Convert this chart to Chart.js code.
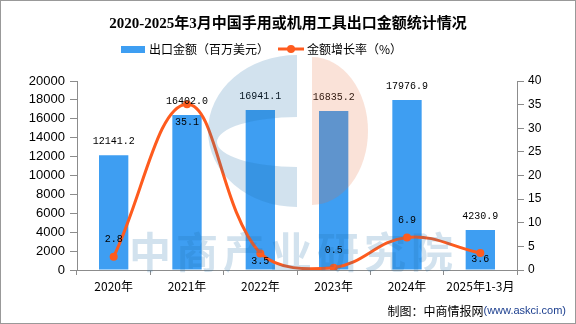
<!DOCTYPE html>
<html>
<head>
<meta charset="utf-8">
<script src="https://cdn.jsdelivr.net/npm/chart.js@4.4.1/dist/chart.umd.min.js"></script>
<style>
  html, body { margin: 0; padding: 0; background: #fff; }
  #wrap { width: 576px; height: 324px; }
</style>
</head>
<body>
<div id="wrap"><canvas id="myChart" width="576" height="324"></canvas></div>
<script>
// 出口数据
const years = ['2020年', '2021年', '2022年', '2023年', '2024年', '2025年1-3月'];
const exportValue = [12141.2, 16402.0, 16941.1, 16835.2, 17976.9, 4230.9];
const growthRate = [2.8, 35.1, 3.5, 0.5, 6.9, 3.6];

const barColor = '#3e9ef2';
const lineColor = '#fe5b1e';
const axisColor = '#8c8c8c';

// 增长率标签的上下偏移
const growthLabelShift = [-17, 18, 8, -17, -17, 6];

const labelFont = '10px "Liberation Mono", "DejaVu Sans Mono", monospace';

const valueLabels = {
    id: 'valueLabels',
    afterDatasetsDraw(chart) {
        const ctx = chart.ctx;
        ctx.save();
        ctx.font = labelFont;
        ctx.fillStyle = '#000';
        ctx.textAlign = 'center';
        ctx.textBaseline = 'middle';
        chart.getDatasetMeta(0).data.forEach((el, i) => {
            ctx.fillText(exportValue[i].toFixed(1), el.x, el.y - 14);
        });
        chart.getDatasetMeta(1).data.forEach((el, i) => {
            ctx.fillText(growthRate[i].toFixed(1), el.x, el.y + growthLabelShift[i]);
        });
        ctx.restore();
    }
};

const legendAndFooter = {
    id: 'legendAndFooter',
    afterDraw(chart) {
        const ctx = chart.ctx;
        const ds = chart.data.datasets;
        ctx.save();
        // 图例
        ctx.font = '12px "Noto Sans CJK SC"';
        ctx.textBaseline = 'middle';
        ctx.fillStyle = ds[0].backgroundColor;
        ctx.fillRect(121, 46, 24, 7);
        ctx.fillStyle = '#000';
        ctx.fillText(ds[0].label, 149, 49);
        ctx.strokeStyle = ds[1].borderColor;
        ctx.lineWidth = 3;
        ctx.beginPath();
        ctx.moveTo(278, 49);
        ctx.lineTo(304, 49);
        ctx.stroke();
        ctx.fillStyle = ds[1].borderColor;
        ctx.beginPath();
        ctx.arc(291, 49, 4, 0, Math.PI * 2);
        ctx.fill();
        ctx.fillStyle = '#000';
        ctx.fillText(ds[1].label, 307, 49);

        // 来源
        ctx.textAlign = 'right';
        ctx.font = '11px "Liberation Sans", Arial';
        ctx.fillStyle = '#1c3f8f';
        const src = '(www.askci.com)';
        ctx.fillText(src, 566, 311);
        const w = ctx.measureText(src).width;
        ctx.font = '12px "Noto Sans CJK SC"';
        ctx.fillStyle = '#000';
        ctx.fillText('制图：中商情报网', 566 - w, 311);
        ctx.restore();

        // 水印：左半蓝色 C 形
        ctx.save();
        ctx.globalAlpha = 0.2;
        ctx.beginPath();
        ctx.rect(0, 0, 297, chart.height);
        ctx.clip();
        ctx.fillStyle = '#1e6eaa';
        ctx.beginPath();
        ctx.ellipse(297, 131, 89, 76, 0, 0, Math.PI * 2);
        ctx.ellipse(297, 142, 80, 25, 0, 0, Math.PI * 2);
        ctx.fill('evenodd');
        ctx.restore();

        // 水印：右半橙色
        ctx.save();
        ctx.globalAlpha = 0.2;
        ctx.fillStyle = '#e66e3c';
        ctx.beginPath();
        ctx.ellipse(312, 131, 56, 74, 0, -Math.PI / 2, Math.PI / 2);
        ctx.closePath();
        ctx.fill();
        ctx.fillStyle = '#1e6eaa';
        ctx.font = 'bold 42px "Noto Sans CJK SC"';
        ctx.textAlign = 'center';
        ctx.textBaseline = 'middle';
        '中商产业研究院'.split('').forEach((ch, i) => {
            ctx.fillText(ch, 150 + i * 47, 252);
        });
        ctx.restore();

        // 外框
        ctx.save();
        ctx.strokeStyle = '#999';
        ctx.lineWidth = 1;
        ctx.strokeRect(0.5, 0.5, chart.width - 1, chart.height - 1);
        ctx.restore();
    }
};

const ctx = document.getElementById('myChart').getContext('2d');

new Chart(ctx, {
    type: 'bar',
    data: {
        labels: years,
        datasets: [{
            label: '出口金额（百万美元）',
            data: exportValue,
            backgroundColor: barColor,
            yAxisID: 'y',
            order: 1,
            categoryPercentage: 0.8,
            barPercentage: 0.5
        }, {
            type: 'line',
            label: '金额增长率（%）',
            data: growthRate,
            borderColor: lineColor,
            backgroundColor: lineColor,
            borderWidth: 3,
            pointRadius: 4,
            pointBorderWidth: 0,
            pointBackgroundColor: lineColor,
            tension: 0.4,
            yAxisID: 'y1',
            order: 0
        }]
    },
    options: {
        responsive: false,
        animation: false,
        layout: { padding: { left: 0, right: 0, top: 0, bottom: 0 } },
        plugins: {
            legend: { display: false },
            tooltip: { enabled: false },
            title: {
                display: true,
                text: '2020-2025年3月中国手用或机用工具出口金额统计情况',
                color: '#000',
                font: { family: '"Liberation Serif", "Noto Sans CJK SC"', size: 15, weight: 'bold' },
                padding: { top: 15, bottom: 48 }
            }
        },
        scales: {
            x: {
                grid: { drawOnChartArea: false, tickLength: 5, color: axisColor, offset: true },
                border: { color: axisColor },
                ticks: {
                    color: '#000',
                    padding: 4,
                    maxRotation: 0,
                    font: { family: '"Noto Sans CJK SC"', size: 12 }
                },
                afterFit(scale) { scale.height = 54; }
            },
            y: {
                position: 'left',
                min: 0,
                max: 20000,
                grid: { drawOnChartArea: false, tickLength: 7, color: axisColor },
                border: { color: axisColor },
                ticks: {
                    stepSize: 2000,
                    color: '#000',
                    padding: 5,
                    font: { family: '"Liberation Sans", Arial', size: 13 },
                    callback: v => String(v)
                },
                afterFit(scale) { scale.width = 77; }
            },
            y1: {
                position: 'right',
                min: 0,
                max: 40,
                grid: { drawOnChartArea: false, tickLength: 7, color: axisColor },
                border: { color: axisColor },
                ticks: {
                    stepSize: 5,
                    color: '#000',
                    padding: 4,
                    font: { family: '"Liberation Sans", Arial', size: 12 },
                    callback: v => String(v)
                },
                afterFit(scale) { scale.width = 59; }
            }
        }
    },
    plugins: [valueLabels, legendAndFooter]
});
</script>
</body>
</html>
